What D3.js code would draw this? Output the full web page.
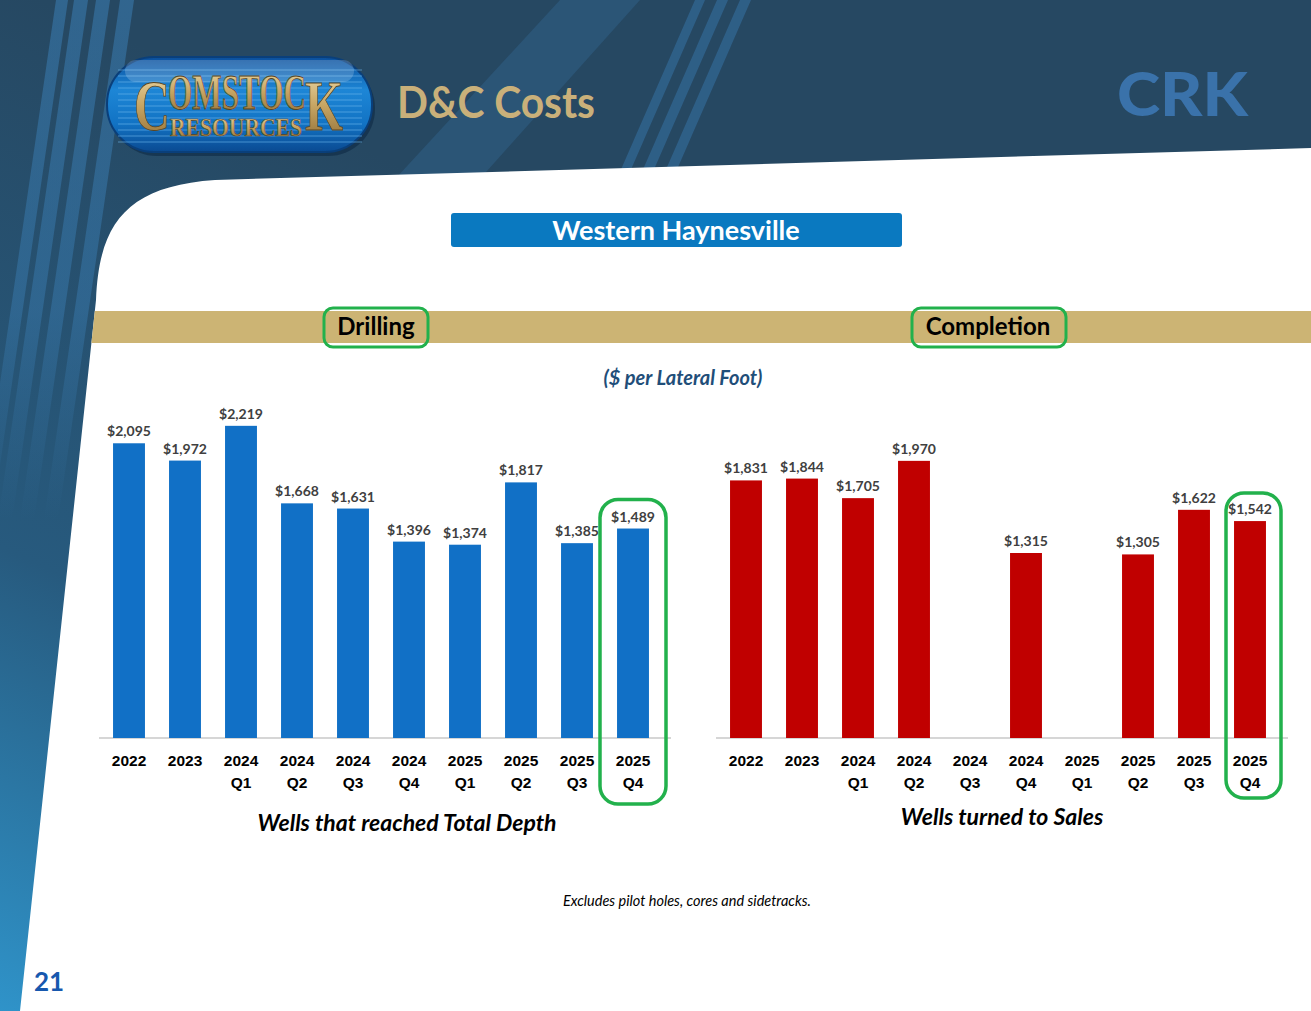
<!DOCTYPE html>
<html>
<head>
<meta charset="utf-8">
<script src="https://cdn.jsdelivr.net/npm/d3@7"></script>
<style>
    body { margin: 0; background: #ffffff; }
    svg { display: block; font-family: Lato, 'Open Sans', sans-serif; }
</style>
</head>
<body>
<svg id="slide" width="1311" height="1011"></svg>
<script>
// chart data
let categories = ['2022', '2023', '2024 Q1', '2024 Q2', '2024 Q3', '2024 Q4', '2025 Q1', '2025 Q2', '2025 Q3', '2025 Q4'];
let drillingCost = [2095, 1972, 2219, 1668, 1631, 1396, 1374, 1817, 1385, 1489];
let completionCost = [1831, 1844, 1705, 1970, null, 1315, null, 1305, 1622, 1542];
let highlighted = '2025 Q4';

let svg = d3.select('#slide');
let defs = svg.append('defs');

function background() {
    let bg = defs.append('linearGradient')
        .attr('id', 'bg_grad')
        .attr('x1', 0).attr('y1', 1).attr('x2', 0.45).attr('y2', 0.25);
    bg.append('stop').attr('offset', '0').attr('stop-color', '#2f93c9');
    bg.append('stop').attr('offset', '0.45').attr('stop-color', '#275a7e');
    bg.append('stop').attr('offset', '1').attr('stop-color', '#264862');

    svg.append('rect')
        .attr('width', 1311).attr('height', 1011)
        .attr('fill', 'url(#bg_grad)');

    let fade = defs.append('linearGradient')
        .attr('id', 'streak_fade')
        .attr('gradientUnits', 'userSpaceOnUse')
        .attr('x1', 0).attr('y1', 0).attr('x2', 0).attr('y2', 520);
    fade.append('stop').attr('offset', '0').attr('stop-color', '#3a7db3').attr('stop-opacity', 0.55);
    fade.append('stop').attr('offset', '0.6').attr('stop-color', '#3a7db3').attr('stop-opacity', 0.45);
    fade.append('stop').attr('offset', '1').attr('stop-color', '#3a7db3').attr('stop-opacity', 0);

    // light diagonal streaks
    let streaks = [
        [[-20, 520], [-8, 520], [68, 0], [56, 0]],
        [[-2, 520], [12, 520], [88, 0], [74, 0]],
        [[20, 520], [34, 520], [110, 0], [96, 0]],
        [[44, 520], [58, 520], [134, 0], [120, 0]],
        [[385, 190], [470, 190], [640, 0], [560, 0]],
        [[612, 190], [622, 190], [705, 0], [695, 0]],
        [[634, 190], [645, 190], [728, 0], [717, 0]],
        [[657, 190], [668, 190], [751, 0], [740, 0]]
    ];
    svg.append('g')
        .selectAll('polygon')
        .data(streaks)
        .enter().append('polygon')
        .attr('points', function (d) { return d.join(' '); })
        .attr('fill', function (d, i) { return i < 4 ? 'url(#streak_fade)' : '#3a7db3'; })
        .attr('opacity', function (d, i) { return i === 4 ? 0.25 : (i < 4 ? 1 : 0.45); });

    let panel = 'M96,300 C99,222 128,186 215,180 L1311,148 L1311,1011 L20,1011 Z';
    defs.append('clipPath').attr('id', 'panel_clip')
        .append('path').attr('d', panel);
    svg.append('path')
        .attr('d', panel)
        .attr('fill', '#ffffff');
}

function header() {
    // logo pill
    let pill = defs.append('linearGradient')
        .attr('id', 'pill_grad')
        .attr('x1', 0).attr('y1', 0).attr('x2', 0).attr('y2', 1);
    pill.append('stop').attr('offset', '0').attr('stop-color', '#0b4f9c');
    pill.append('stop').attr('offset', '0.35').attr('stop-color', '#1d86d6');
    pill.append('stop').attr('offset', '0.7').attr('stop-color', '#1273c4');
    pill.append('stop').attr('offset', '1').attr('stop-color', '#0a4a92');

    let gold = defs.append('linearGradient')
        .attr('id', 'gold_grad')
        .attr('x1', 0).attr('y1', 0).attr('x2', 0).attr('y2', 1);
    gold.append('stop').attr('offset', '0').attr('stop-color', '#f1dfae');
    gold.append('stop').attr('offset', '0.5').attr('stop-color', '#c6a462');
    gold.append('stop').attr('offset', '1').attr('stop-color', '#8c6a32');

    let logo = svg.append('g');
    logo.append('rect')
        .attr('x', 110).attr('y', 61).attr('width', 265).attr('height', 95).attr('rx', 47)
        .attr('fill', '#0d2a44').attr('opacity', 0.6);
    logo.append('rect')
        .attr('x', 107).attr('y', 57).attr('width', 265).attr('height', 95).attr('rx', 47)
        .attr('fill', 'url(#pill_grad)')
        .attr('stroke', '#0a3f7a').attr('stroke-width', 2);
    let stripes = d3.range(70, 146, 6);
    logo.selectAll('line.stripe')
        .data(stripes)
        .enter().append('line')
        .attr('class', 'stripe')
        .attr('x1', 118).attr('x2', 362)
        .attr('y1', function (d) { return d; })
        .attr('y2', function (d) { return d; })
        .attr('stroke', '#6fb8ee').attr('stroke-width', 1.2).attr('opacity', 0.6);
    logo.append('rect')
        .attr('x', 125).attr('y', 60).attr('width', 229).attr('height', 22).attr('rx', 11)
        .attr('fill', '#ffffff').attr('opacity', 0.18);

    let serif = "'Liberation Serif', 'DejaVu Serif', serif";
    logo.append('text')
        .attr('x', 134).attr('y', 130)
        .attr('font-family', serif).attr('font-weight', 'bold').attr('font-size', 72)
        .attr('textLength', 36).attr('lengthAdjust', 'spacingAndGlyphs')
        .attr('fill', 'url(#gold_grad)').attr('stroke', '#5a4420').attr('stroke-width', 0.8)
        .text('C');
    logo.append('text')
        .attr('x', 168).attr('y', 109)
        .attr('font-family', serif).attr('font-weight', 'bold').attr('font-size', 50)
        .attr('textLength', 138).attr('lengthAdjust', 'spacingAndGlyphs')
        .attr('fill', 'url(#gold_grad)').attr('stroke', '#5a4420').attr('stroke-width', 0.8)
        .text('OMSTOC');
    logo.append('text')
        .attr('x', 305).attr('y', 130)
        .attr('font-family', serif).attr('font-weight', 'bold').attr('font-size', 72)
        .attr('textLength', 38).attr('lengthAdjust', 'spacingAndGlyphs')
        .attr('fill', 'url(#gold_grad)').attr('stroke', '#5a4420').attr('stroke-width', 0.8)
        .text('K');
    logo.append('text')
        .attr('x', 170).attr('y', 136)
        .attr('font-family', serif).attr('font-weight', 'bold').attr('font-size', 26)
        .attr('textLength', 132).attr('lengthAdjust', 'spacingAndGlyphs')
        .attr('fill', 'url(#gold_grad)').attr('stroke', '#5a4420').attr('stroke-width', 0.6)
        .text('RESOURCES');

    svg.append('text')
        .attr('x', 397).attr('y', 118)
        .attr('font-size', 43).attr('font-weight', 'bold')
        .attr('textLength', 198).attr('lengthAdjust', 'spacingAndGlyphs')
        .attr('fill', '#c9b07a')
        .text('D&C Costs');

    svg.append('text')
        .attr('x', 1117).attr('y', 116)
        .attr('font-size', 61).attr('font-weight', 900)
        .attr('textLength', 131).attr('lengthAdjust', 'spacingAndGlyphs')
        .attr('fill', '#3a72aa')
        .text('CRK');

    // title banner
    svg.append('rect')
        .attr('x', 451).attr('y', 213).attr('width', 451).attr('height', 34).attr('rx', 3)
        .attr('fill', '#0a79c0');
    svg.append('text')
        .attr('x', 676).attr('y', 240)
        .attr('text-anchor', 'middle')
        .attr('font-size', 27).attr('font-weight', 'bold')
        .attr('fill', '#ffffff')
        .text('Western Haynesville');

    // section band
    svg.append('rect')
        .attr('x', 0).attr('y', 311).attr('width', 1311).attr('height', 32)
        .attr('fill', '#ccb474')
        .attr('clip-path', 'url(#panel_clip)');

    let sections = [
        {name: 'Drilling', cx: 376, x: 324, w: 104},
        {name: 'Completion', cx: 988, x: 912, w: 154}
    ];
    let sec = svg.append('g').selectAll('g')
        .data(sections)
        .enter().append('g');
    sec.append('rect')
        .attr('x', function (d) { return d.x; })
        .attr('y', 308).attr('height', 39).attr('rx', 9)
        .attr('width', function (d) { return d.w; })
        .attr('fill', 'none').attr('stroke', '#22b14c').attr('stroke-width', 3);
    sec.append('text')
        .attr('x', function (d) { return d.cx; })
        .attr('y', 335)
        .attr('text-anchor', 'middle')
        .attr('font-size', 24).attr('font-weight', 'bold')
        .attr('fill', '#000000')
        .text(function (d) { return d.name; });

    svg.append('text')
        .attr('x', 683).attr('y', 385)
        .attr('text-anchor', 'middle')
        .attr('font-size', 20).attr('font-weight', 'bold').attr('font-style', 'italic')
        .attr('fill', '#1f4e79')
        .text('($ per Lateral Foot)');
}

function add_bars(left, right, values, color, caption, captionX, captionY, box) {
    let x = d3.scaleBand()
        .domain(categories)
        .range([left, right])
        .paddingInner(0.43)
        .paddingOuter(0.215);
    let y = d3.scaleLinear()
        .domain([0, 2500])
        .range([738, 386.3]);

    let rows = categories.map(function (c, i) { return [c, values[i]]; })
        .filter(function (d) { return d[1] !== null; });

    let g = svg.append('g');

    g.append('line')
        .attr('x1', left - 2).attr('x2', right + 10)
        .attr('y1', y(0)).attr('y2', y(0))
        .attr('stroke', '#c8c8c8').attr('stroke-width', 1.5);

    g.selectAll('.bar')
        .data(rows)
        .enter().append('rect')
        .attr('class', 'bar')
        .attr('x', function (d) { return x(d[0]); })
        .attr('y', function (d) { return y(d[1]); })
        .attr('width', x.bandwidth())
        .attr('height', function (d) { return y(0) - y(d[1]); })
        .attr('fill', color);

    g.selectAll('.val')
        .data(rows)
        .enter().append('text')
        .attr('class', 'val')
        .attr('x', function (d) { return x(d[0]) + x.bandwidth() / 2; })
        .attr('y', function (d) { return y(d[1]) - 7; })
        .attr('text-anchor', 'middle')
        .attr('font-size', 14).attr('font-weight', 'bold')
        .attr('fill', '#404040')
        .text(function (d) { return '$' + d3.format(',')(d[1]); });

    let axis = g.append('g')
        .attr('transform', 'translate(0,' + y(0) + ')')
        .call(d3.axisBottom(x).tickSize(0).tickFormat(''));
    axis.select('.domain').remove();
    axis.selectAll('.tick text').remove();
    let tick_text = axis.selectAll('.tick').append('text')
        .attr('text-anchor', 'middle')
        .attr('font-size', 15.5).attr('font-weight', 'bold')
        .attr('fill', '#000000');
    tick_text.each(function (d) {
        let parts = d.split(' ');
        let t = d3.select(this);
        parts.forEach(function (p, i) {
            t.append('tspan').attr('x', 0).attr('y', 28 + i * 22).text(p);
        });
    });

    // green highlight around the latest quarter
    let hx = x(highlighted) + x.bandwidth() / 2;
    let hv = values[categories.indexOf(highlighted)];
    let top = y(hv) - box.above;
    g.append('rect')
        .attr('x', hx + box.dx).attr('width', box.w)
        .attr('y', top).attr('height', box.bottom - top)
        .attr('rx', 18)
        .attr('fill', 'none').attr('stroke', '#22b14c').attr('stroke-width', 3.5);

    g.append('text')
        .attr('x', captionX)
        .attr('y', captionY)
        .attr('text-anchor', 'middle')
        .attr('font-size', 23).attr('font-weight', 'bold').attr('font-style', 'italic')
        .attr('fill', '#000000')
        .text(caption);
}

background();
header();
add_bars(101, 661, drillingCost, '#1170c6', 'Wells that reached Total Depth', 407, 831,
    {dx: -33, w: 66, above: 29, bottom: 804});
add_bars(718, 1278, completionCost, '#c00000', 'Wells turned to Sales', 1002, 825,
    {dx: -24, w: 55, above: 28, bottom: 798});

svg.append('text')
    .attr('x', 687).attr('y', 906)
    .attr('text-anchor', 'middle')
    .attr('font-size', 14.5).attr('font-style', 'italic')
    .attr('fill', '#000000')
    .text('Excludes pilot holes, cores and sidetracks.');

svg.append('text')
    .attr('x', 34).attr('y', 991)
    .attr('font-size', 26).attr('font-weight', 'bold')
    .attr('fill', '#1758ae')
    .text('21');
</script>
</body>
</html>
